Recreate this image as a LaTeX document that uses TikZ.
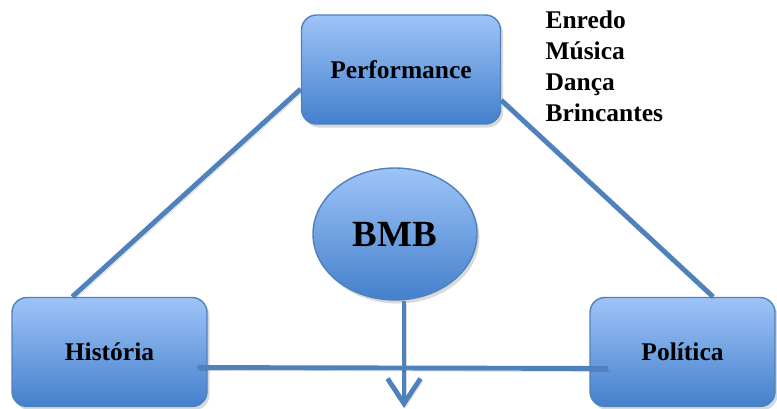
\documentclass[tikz,border=0pt]{standalone}
\usepackage{fontspec}
\setmainfont{Liberation Serif}
\usepackage{tikz}
\usetikzlibrary{arrows.meta,shapes,calc,shadows}
\usetikzlibrary{positioning}
\definecolor{boxtop}{RGB}{158,196,248}
\definecolor{boxbot}{RGB}{68,128,204}
\definecolor{edge}{RGB}{79,129,189}
\tikzstyle{link}=[draw,edge,line width=2.8pt,
  preaction={draw,black,opacity=0.15,transform canvas={shift={(0.04,-0.06)}}}]
\tikzstyle{block} =
  [rectangle, draw=edge, thick, top color=boxtop, bottom color=boxbot,
   minimum width=3.9cm, minimum height=2.18cm, rounded corners=0.3cm,
   text centered, font=\bfseries\fontsize{14.5}{17}\selectfont,
   drop shadow={opacity=0.3, shadow xshift=0.05cm, shadow yshift=-0.07cm}]
\tikzstyle{cloud} =
  [ellipse, draw=edge, thick, top color=boxtop, bottom color=boxbot,
   minimum width=3.28cm, minimum height=2.64cm, inner sep=0pt,
   text centered, font=\bfseries\fontsize{21}{24}\selectfont,
   drop shadow={opacity=0.3, shadow xshift=0.05cm, shadow yshift=-0.07cm}]
\tikzstyle{list} =
  [align=left, inner sep=0pt, font=\bfseries\fontsize{14.5}{17.6}\selectfont]

\begin{document}
\begin{tikzpicture}[node distance = 1.5cm]
  \useasboundingbox (0,0) rectangle (15.54,-8.16);
  \node [block, minimum width=3.98cm] (perf) at (8.02,-1.39) {Performance};
  \node [cloud, below of=perf, node distance=3.29cm, xshift=-0.12cm] (bmb) {BMB};
  \node [block, below of=perf, node distance=5.65cm, xshift=-5.83cm] (hist) {História};
  \node [block, right of=hist, node distance=11.46cm, minimum width=3.7cm] (pol) {Política};
  \node [list, anchor=north west] (itens) at ($(perf.north east)+(0.88,0.08)$)
    {Enredo\\Música\\Dança\\Brincantes};

  \coordinate (fim) at (8.08,-8.16);
  \draw [link] (perf.191) -- (hist.124);
  \draw [link] (perf.343) -- (pol.61);
  \draw [link, -{Straight Barb[length=0.5cm,width=0.66cm]}] (bmb.south -| fim) -- (fim);
  \draw [link, shorten <=-0.2cm, shorten >=-0.38cm] (hist.351) -- (pol.190);
\end{tikzpicture}
\end{document}
